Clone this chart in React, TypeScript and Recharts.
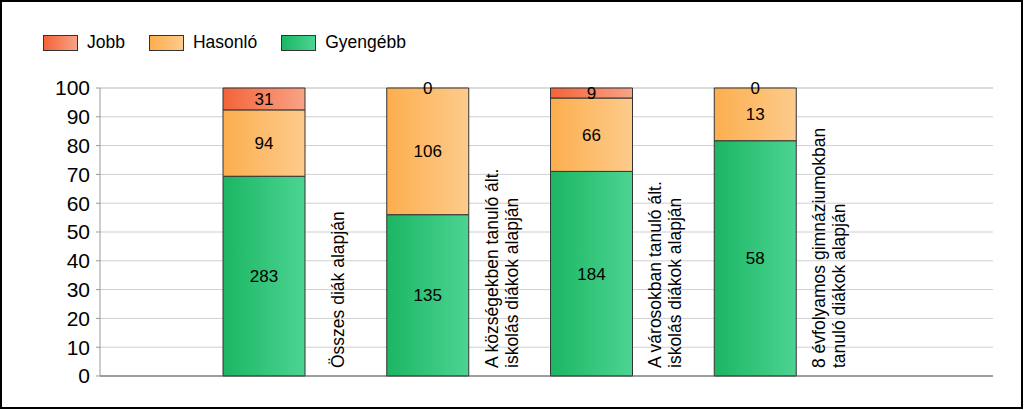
import React from "react";
import { BarChart, Bar, XAxis, YAxis, CartesianGrid, LabelList } from "recharts";

const categoryLines: string[][] = [
  ["Összes diák alapján"],
  ["A községekben tanuló ált.", "iskolás diákok alapján"],
  ["A városokban tanuló ált.", "iskolás diákok alapján"],
  ["8 évfolyamos gimnáziumokban", "tanuló diákok alapján"],
];
const gyengebbCounts = [283, 135, 184, 58];
const hasonloCounts = [94, 106, 66, 13];
const jobbCounts = [31, 0, 9, 0];
const yTicks = [0, 10, 20, 30, 40, 50, 60, 70, 80, 90, 100];

const series = [
  { key: "gy", name: "Gyengébb", from: "#1bb663", to: "#4cd492", counts: gyengebbCounts },
  { key: "ha", name: "Hasonló", from: "#fcae4e", to: "#fdcb8c", counts: hasonloCounts },
  { key: "jo", name: "Jobb", from: "#f3643a", to: "#f8a386", counts: jobbCounts },
];

const data = categoryLines.map((lines, i) => {
  const total = gyengebbCounts[i] + hasonloCounts[i] + jobbCounts[i];
  const row: any = { name: lines.join(" "), idx: i };
  series.forEach((s) => {
    row[s.key] = (s.counts[i] / total) * 100;
    row[s.key + "Count"] = s.counts[i];
  });
  return row;
});

const FONT = "'Liberation Sans', Arial, sans-serif";

const CategoryTick = (props: any) => {
  const { x, y, payload } = props;
  const lines = categoryLines[payload.index] || [payload.value];
  const cx = x + 74;
  const cy = y - 8;
  const lh = 20;
  const n = lines.length;
  return (
    <text
      x={cx}
      y={cy}
      transform={`rotate(-90, ${cx}, ${cy})`}
      textAnchor="start"
      fontSize={17.5}
      fontFamily={FONT}
      fill="#000"
    >
      {lines.map((l, i) => (
        <tspan key={i} x={cx} dy={i === 0 ? -((n - 1) / 2) * lh + 6 : lh}>
          {l}
        </tspan>
      ))}
    </text>
  );
};

// Draws the label of a zero-height "Jobb" segment on top of the stack
const ZeroTopLabel = (props: any) => {
  const vb = props.viewBox || props;
  const { value } = props;
  if (value !== 0) return null;
  const x = (vb.x ?? props.x) + (vb.width ?? props.width) / 2;
  const y = vb.y ?? props.y;
  return (
    <text x={x} y={y} dy={6} textAnchor="middle" fontSize={17} fontFamily={FONT} fill="#000">
      {value}
    </text>
  );
};

const LegendBlock = () => {
  const items = [...series].reverse();
  return (
    <div
      style={{
        position: "absolute",
        left: 43,
        top: 34,
        display: "flex",
        alignItems: "center",
        fontFamily: FONT,
        fontSize: 17.5,
        color: "#000",
      }}
    >
      {items.map((s) => (
        <div key={s.key} style={{ display: "flex", alignItems: "center", marginRight: 24 }}>
          <div
            style={{
              width: 35,
              height: 16,
              boxSizing: "border-box",
              border: "1px solid #333",
              background: `linear-gradient(to right, ${s.from}, ${s.to})`,
              marginRight: 9,
            }}
          />
          <span style={{ lineHeight: "17px" }}>{s.name}</span>
        </div>
      ))}
    </div>
  );
};

export default function App() {
  return (
    <div style={{ position: "absolute", left: 0, top: 0, width: 1024, height: 410, background: "#fff" }}>
      <div
        style={{
          position: "absolute",
          left: 0,
          top: 0,
          width: 1023,
          height: 409,
          boxSizing: "border-box",
          border: "2px solid #000",
        }}
      />
      <div style={{ position: "absolute", left: 0, top: 0 }}>
        <BarChart
          width={1024}
          height={410}
          data={data}
          margin={{ top: 88, right: 31, bottom: 0, left: 0 }}
        >
          <defs>
            {series.map((s) => (
              <linearGradient key={s.key} id={"grad-" + s.key} x1="0" y1="0" x2="1" y2="0">
                <stop offset="0%" stopColor={s.from} />
                <stop offset="100%" stopColor={s.to} />
              </linearGradient>
            ))}
          </defs>
          <CartesianGrid vertical={false} stroke="#cfcfcf" strokeWidth={1} />
          <XAxis
            dataKey="name"
            type="category"
            padding={{ left: 82, right: 156 }}
            height={34}
            tickSize={0}
            tickMargin={0}
            tickLine={false}
            axisLine={{ stroke: "#555" }}
            tick={<CategoryTick />}
            interval={0}
          />
          <YAxis
            width={100}
            domain={[0, 100]}
            ticks={yTicks}
            interval={0}
            tickSize={4}
            tickMargin={6}
            axisLine={{ stroke: "#999" }}
            tickLine={{ stroke: "#999" }}
            tick={{ fontSize: 21, fontFamily: FONT, fill: "#000" }}
          />
          {series.map((s) => (
            <Bar
              key={s.key}
              dataKey={s.key}
              name={s.name}
              stackId="a"
              barSize={82}
              fill={`url(#grad-${s.key})`}
              stroke="#333"
              strokeWidth={1}
              isAnimationActive={false}
            >
              <LabelList
                dataKey={s.key + "Count"}
                position="center"
                fill="#000"
                fontSize={17}
                fontFamily={FONT}
              />
              {s.key === "ha" ? <LabelList dataKey="joCount" content={<ZeroTopLabel />} /> : null}
            </Bar>
          ))}
        </BarChart>
      </div>
      <LegendBlock />
    </div>
  );
}
